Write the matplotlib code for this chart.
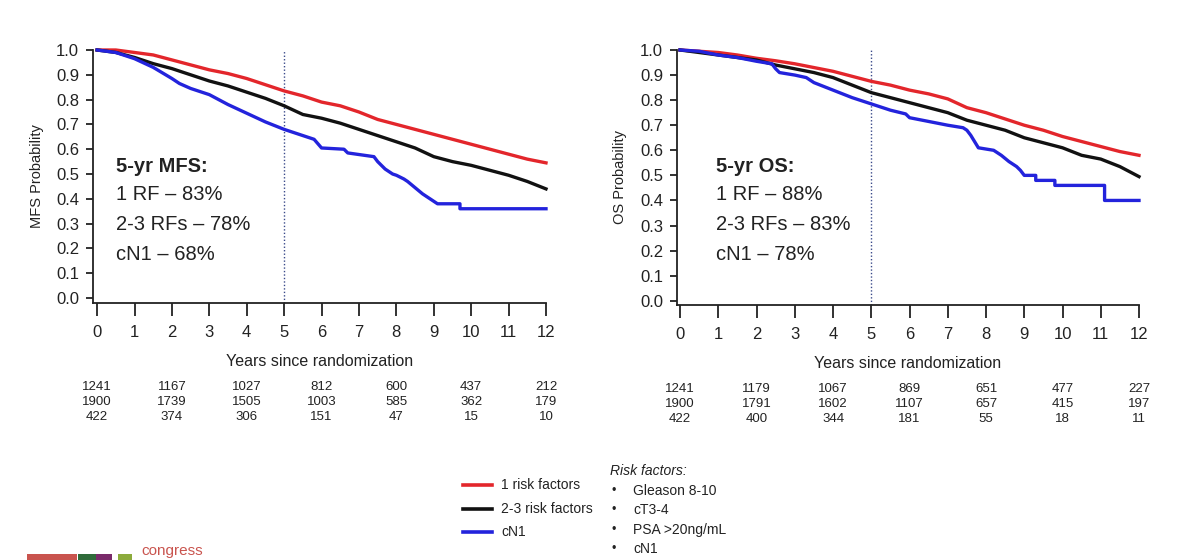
import matplotlib
matplotlib.use("Agg")
import matplotlib.pyplot as plt
import matplotlib.transforms as mtransforms
from matplotlib.lines import Line2D
from matplotlib.patches import Rectangle

plt.rcParams['font.family'] = ['Liberation Sans', 'DejaVu Sans']

RED = '#e3262b'
BLACK = '#111111'
BLUE = '#2323dc'

# ---- MFS curves ----
mfs_t_smooth = [0, 0.5, 1, 1.5, 2, 2.5, 3, 3.5, 4, 4.5, 5, 5.5, 6, 6.5, 7, 7.5, 8, 8.5, 9, 9.5, 10, 10.5, 11, 11.5, 12]
mfs_red = [1.0, 1.0, 0.99, 0.98, 0.96, 0.94, 0.92, 0.905, 0.885, 0.86, 0.835, 0.815, 0.79, 0.775, 0.75, 0.72, 0.70, 0.68, 0.66, 0.64, 0.62, 0.60, 0.58, 0.56, 0.545]
mfs_black = [1.0, 0.99, 0.97, 0.945, 0.925, 0.90, 0.875, 0.855, 0.83, 0.805, 0.775, 0.74, 0.725, 0.705, 0.68, 0.655, 0.63, 0.605, 0.57, 0.55, 0.535, 0.515, 0.495, 0.47, 0.44]
mfs_blue_t = [0, 0.5, 1, 1.5, 2, 2.2, 2.5, 3, 3.5, 4, 4.5, 5, 5.5, 5.8, 6.0, 6.6, 6.7, 7.4, 7.5, 7.7, 7.9, 8.0, 8.2, 8.3, 8.5, 8.7, 8.9, 9.1, 9.7, 9.7, 12]
mfs_blue = [1.0, 0.99, 0.965, 0.93, 0.885, 0.865, 0.845, 0.82, 0.78, 0.745, 0.71, 0.68, 0.655, 0.64, 0.605, 0.60, 0.585, 0.57, 0.55, 0.52, 0.50, 0.495, 0.48, 0.47, 0.445, 0.42, 0.40, 0.38, 0.38, 0.36, 0.36]

# ---- OS curves ----
os_t_smooth = mfs_t_smooth
os_red = [1.0, 0.995, 0.99, 0.98, 0.967, 0.957, 0.945, 0.93, 0.915, 0.895, 0.875, 0.86, 0.84, 0.825, 0.805, 0.77, 0.75, 0.725, 0.70, 0.68, 0.655, 0.635, 0.615, 0.595, 0.58]
os_black = [1.0, 0.99, 0.98, 0.97, 0.96, 0.94, 0.925, 0.91, 0.89, 0.86, 0.83, 0.81, 0.79, 0.77, 0.75, 0.72, 0.70, 0.68, 0.65, 0.63, 0.61, 0.58, 0.565, 0.535, 0.495]
os_blue_t = [0, 0.5, 1, 1.5, 2, 2.4, 2.5, 2.6, 3, 3.3, 3.5, 4, 4.5, 5, 5.5, 5.9, 6.0, 6.5, 7, 7.4, 7.5, 7.6, 7.7, 7.8, 8.2, 8.4, 8.6, 8.8, 8.9, 9.0, 9.3, 9.3, 9.8, 9.8, 11.1, 11.1, 12]
os_blue = [1.0, 0.995, 0.98, 0.97, 0.955, 0.945, 0.925, 0.91, 0.90, 0.89, 0.87, 0.84, 0.81, 0.785, 0.76, 0.745, 0.73, 0.715, 0.70, 0.69, 0.68, 0.66, 0.635, 0.61, 0.60, 0.58, 0.555, 0.535, 0.52, 0.50, 0.50, 0.48, 0.48, 0.46, 0.46, 0.40, 0.40]

# ---- numbers at risk ----
risk_times = [0, 2, 4, 6, 8, 10, 12]
mfs_risk = [[1241, 1167, 1027, 812, 600, 437, 212],
            [1900, 1739, 1505, 1003, 585, 362, 179],
            [422, 374, 306, 151, 47, 15, 10]]
os_risk = [[1241, 1179, 1067, 869, 651, 477, 227],
           [1900, 1791, 1602, 1107, 657, 415, 197],
           [422, 400, 344, 181, 55, 18, 11]]

mfs_text = ['5-yr MFS:', '1 RF \u2013 83%', '2-3 RFs \u2013 78%', 'cN1 \u2013 68%']
os_text = ['5-yr OS:', '1 RF \u2013 88%', '2-3 RFs \u2013 83%', 'cN1 \u2013 78%']

legend_labels = ['1 risk factors', '2-3 risk factors', 'cN1']
risk_factor_items = ['Gleason 8-10', 'cT3-4', 'PSA >20ng/mL', 'cN1']

W, H = 1200, 560
fig = plt.figure(figsize=(12, 5.6), dpi=100)
fig.patch.set_facecolor('white')


def fx(px):
    return px / W


def fy(py):
    return 1 - py / H


def panel(rect, xmin, ymin, ylabel, t_s, red, black, bt, blue, risk, risk_y, text, text_x):
    ax = fig.add_axes(rect)
    ax.set_xlim(xmin, 12)
    ax.set_ylim(ymin, 1.0)
    for s in ['top', 'right']:
        ax.spines[s].set_visible(False)
    for s in ['left', 'bottom']:
        ax.spines[s].set_linewidth(1.3)
        ax.spines[s].set_color('#222222')
    ax.set_xticks(range(0, 13))
    ax.set_yticks([i / 10 for i in range(11)])
    ax.set_yticklabels(['%.1f' % (i / 10) for i in range(11)])
    ax.tick_params(axis='x', length=9, width=1.3, pad=7, labelsize=12, colors='#222222')
    ax.tick_params(axis='y', length=5, width=1.3, pad=5, labelsize=12, colors='#222222')
    ax.set_xlabel('Years since randomization', fontsize=11.5, labelpad=10, color='#222222')
    ax.set_ylabel(ylabel, fontsize=10.5, color='#222222')
    ax.yaxis.set_label_coords(-0.108, 0.5)

    ax.axvline(5, ymin=0, ymax=1, color='#3a4a8a', lw=1, ls=(0, (1, 1.5)))
    ax.plot(t_s, red, color=RED, lw=2.4, clip_on=False, zorder=3)
    ax.plot(t_s, black, color=BLACK, lw=2.4, clip_on=False, zorder=4)
    ax.plot(bt, blue, color=BLUE, lw=2.4, clip_on=False, zorder=5)

    tr = mtransforms.blended_transform_factory(ax.transData, fig.transFigure)
    for row, py in zip(risk, risk_y):
        for t, n in zip(risk_times, row):
            ax.text(t, fy(py), str(n), transform=tr, ha='center', va='center',
                    fontsize=9.5, color='#222222')

    for i, (s, py) in enumerate(zip(text, [167, 195, 225, 255])):
        fig.text(fx(text_x), fy(py), s, ha='left', va='center', fontsize=14.5,
                 fontweight='bold' if i == 0 else 'normal', color='#222222')
    return ax


panel([fx(93), fy(303), fx(546 - 93), (303 - 50) / H], -0.11, -0.02, 'MFS Probability',
      mfs_t_smooth, mfs_red, mfs_black, mfs_blue_t, mfs_blue, mfs_risk, [387, 402, 417],
      mfs_text, 116)
panel([fx(677), fy(305), fx(1139 - 677), (305 - 50) / H], -0.08, -0.017, 'OS Probability',
      os_t_smooth, os_red, os_black, os_blue_t, os_blue, os_risk, [389, 404, 419],
      os_text, 716)

# ---- legend ----
for lab, col, py in zip(legend_labels, [RED, BLACK, BLUE], [485, 509, 532]):
    fig.add_artist(Line2D([fx(463), fx(492)], [fy(py), fy(py)], color=col, lw=2.6))
    fig.text(fx(501), fy(py), lab, ha='left', va='center', fontsize=10, color='#222222')

fig.text(fx(610), fy(471), 'Risk factors:', ha='left', va='center', fontsize=10,
         style='italic', color='#222222')
for item, py in zip(risk_factor_items, [491, 510, 530, 549]):
    fig.text(fx(612), fy(py), '\u2022', ha='left', va='center', fontsize=9, color='#222222')
    fig.text(fx(633), fy(py), item, ha='left', va='center', fontsize=10, color='#222222')

# ---- cropped congress logo at the bottom ----
for x0, x1, c in [(27, 77, '#c9544e'), (78, 96, '#2f6b3a'), (96, 112, '#7a2a6a'), (118, 132, '#8cab3c')]:
    fig.add_artist(Rectangle((fx(x0), 0), fx(x1 - x0), 6 / H, color=c, lw=0))
fig.text(fx(141), fy(551), 'congress', ha='left', va='center', fontsize=11, color='#c9544e')

fig.savefig('out.png', dpi=100, facecolor='white')
